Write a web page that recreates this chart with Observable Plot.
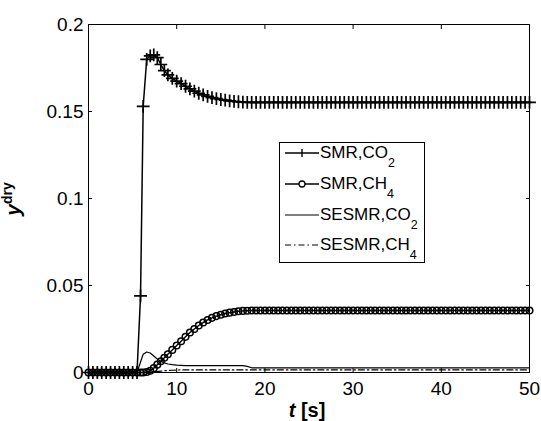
<!DOCTYPE html>
<html>
<head>
<meta charset="utf-8">
<script src="https://cdn.jsdelivr.net/npm/d3@7"></script>
<script src="https://cdn.jsdelivr.net/npm/@observablehq/plot@0.6"></script>
<style>
  body { margin: 0; background: #fff; }
  #chart { position: relative; width: 541px; height: 421px; }
</style>
</head>
<body>
<div id="chart"></div>
<script>
// time [s]
const time = [
  0,0.5,1,1.5,2,2.5,3,3.5,4,4.5,5,5.5,
  5.9,6.2,6.6,7,7.4,7.8,8.2,8.6,9,
  9.5,10,10.5,11,11.5,12,12.5,13,13.5,14,14.5,15,15.5,16,16.5,17,17.5,18,
  18.5,19,19.5,20,20.5,21,21.5,22,22.5,23,23.5,24,24.5,25,25.5,26,
  26.5,27,27.5,28,28.5,29,29.5,30,30.5,31,31.5,32,32.5,33,33.5,34,
  34.5,35,35.5,36,36.5,37,37.5,38,38.5,39,39.5,40,40.5,41,41.5,42,
  42.5,43,43.5,44,44.5,45,45.5,46,46.5,47,47.5,48,48.5,49,49.5,50
];
const smrCO2 = [
  0,0,0,0,0,0,0,0,0,0,0,0,
  0.044,0.153,0.180,0.182,0.1825,0.181,0.177,0.1735,0.171,
  0.169,0.1675,0.166,0.1645,0.163,0.1617,0.1605,0.1595,0.1587,0.158,0.1574,0.1569,0.1565,0.1561,0.1558,0.1556,0.1554,0.1553,
  0.1552,0.1552,0.1552,0.1552,0.1552,0.1552,0.1552,0.1552,0.1552,0.1552,0.1552,0.1552,0.1552,0.1552,0.1552,0.1552,
  0.1552,0.1552,0.1552,0.1552,0.1552,0.1552,0.1552,0.1552,0.1552,0.1552,0.1552,0.1552,0.1552,0.1552,0.1552,0.1552,
  0.1552,0.1552,0.1552,0.1552,0.1552,0.1552,0.1552,0.1552,0.1552,0.1552,0.1552,0.1552,0.1552,0.1552,0.1552,0.1552,
  0.1552,0.1552,0.1552,0.1552,0.1552,0.1552,0.1552,0.1552,0.1552,0.1552,0.1552,0.1552,0.1552,0.1552,0.1552,0.1552
];
const smrCH4 = [
  0,0,0,0,0,0,0,0,0,0,0,0,
  0,0,0.0003,0.001,0.0025,0.0045,0.0065,0.0085,0.0105,
  0.013,0.0155,0.018,0.0205,0.023,0.025,0.027,0.0287,0.0302,0.0314,0.0324,0.0332,0.0339,0.0344,0.0348,0.0352,0.0354,0.0355,
  0.0356,0.0356,0.0356,0.0356,0.0356,0.0356,0.0356,0.0356,0.0356,0.0356,0.0356,0.0356,0.0356,0.0356,0.0356,0.0356,
  0.0356,0.0356,0.0356,0.0356,0.0356,0.0356,0.0356,0.0356,0.0356,0.0356,0.0356,0.0356,0.0356,0.0356,0.0356,0.0356,
  0.0356,0.0356,0.0356,0.0356,0.0356,0.0356,0.0356,0.0356,0.0356,0.0356,0.0356,0.0356,0.0356,0.0356,0.0356,0.0356,
  0.0356,0.0356,0.0356,0.0356,0.0356,0.0356,0.0356,0.0356,0.0356,0.0356,0.0356,0.0356,0.0356,0.0356,0.0356,0.0356
];
const sesmrCO2 = [
  0,0,0,0,0,0,0,0,0,0,0,0,
  0.006,0.0105,0.0118,0.0112,0.0095,0.0078,0.0064,0.0055,0.0049,
  0.0045,0.0042,0.0041,0.004,0.004,0.004,0.004,0.004,0.004,0.004,0.004,0.004,0.004,0.004,0.004,0.004,0.004,0.0035,
  0.0027,0.0027,0.0027,0.0027,0.0027,0.0027,0.0027,0.0027,0.0027,0.0027,0.0027,0.0027,0.0027,0.0027,0.0027,0.0027,
  0.0027,0.0027,0.0027,0.0027,0.0027,0.0027,0.0027,0.0027,0.0027,0.0027,0.0027,0.0027,0.0027,0.0027,0.0027,0.0027,
  0.0027,0.0027,0.0027,0.0027,0.0027,0.0027,0.0027,0.0027,0.0027,0.0027,0.0027,0.0027,0.0027,0.0027,0.0027,0.0027,
  0.0027,0.0027,0.0027,0.0027,0.0027,0.0027,0.0027,0.0027,0.0027,0.0027,0.0027,0.0027,0.0027,0.0027,0.0027,0.0027
];
const sesmrCH4 = [
  0,0,0,0,0,0,0,0,0,0,0,0,
  0,0,0,0,0.0002,0.0005,0.0008,0.001,0.0012,
  0.0013,0.0014,0.0015,0.0015,0.0015,0.0015,0.0015,0.0015,0.0015,0.0015,0.0015,0.0015,0.0015,0.0015,0.0015,0.0015,0.0015,0.0015,
  0.0015,0.0015,0.0015,0.0015,0.0015,0.0015,0.0015,0.0015,0.0015,0.0015,0.0015,0.0015,0.0015,0.0015,0.0015,0.0015,
  0.0015,0.0015,0.0015,0.0015,0.0015,0.0015,0.0015,0.0015,0.0015,0.0015,0.0015,0.0015,0.0015,0.0015,0.0015,0.0015,
  0.0015,0.0015,0.0015,0.0015,0.0015,0.0015,0.0015,0.0015,0.0015,0.0015,0.0015,0.0015,0.0015,0.0015,0.0015,0.0015,
  0.0015,0.0015,0.0015,0.0015,0.0015,0.0015,0.0015,0.0015,0.0015,0.0015,0.0015,0.0015,0.0015,0.0015,0.0015,0.0015
];
const xTicks = [0, 10, 20, 30, 40, 50];
const yTicks = [0, 0.05, 0.1, 0.15, 0.2];
const legendLabels = [["SMR,CO", "2"], ["SMR,CH", "4"], ["SESMR,CO", "2"], ["SESMR,CH", "4"]];

const rows = time.map((t, i) => ({t, smrCO2: smrCO2[i], smrCH4: smrCH4[i], sesmrCO2: sesmrCO2[i], sesmrCH4: sesmrCH4[i]}));

const FONT = "Liberation Sans, Arial, sans-serif";
const plot = Plot.plot({
  width: 541,
  height: 421,
  marginLeft: 88,
  marginRight: 12,
  marginTop: 24,
  marginBottom: 49,
  style: {fontFamily: FONT, fontSize: "19px", color: "black", background: "white"},
  x: {domain: [0, 50]},
  y: {domain: [0, 0.2]},
  marks: [
    Plot.frame({stroke: "black", strokeWidth: 1}),
    Plot.axisX({anchor: "bottom", ticks: xTicks, tickSize: 0, tickPadding: 9, label: null, tickFormat: d => String(d), fontSize: 19}),
    Plot.axisY({anchor: "left", ticks: yTicks, tickSize: 0, tickPadding: 5, label: null, tickFormat: d => String(d), fontSize: 19}),
    Plot.axisX({anchor: "bottom", ticks: xTicks, tickSize: 4, dy: -4, text: null, label: null}),
    Plot.axisX({anchor: "top", ticks: xTicks, tickSize: 4, dy: 4, text: null, label: null}),
    Plot.axisY({anchor: "left", ticks: yTicks, tickSize: 4, dx: 4, text: null, label: null}),
    Plot.axisY({anchor: "right", ticks: yTicks, tickSize: 4, dx: -4, text: null, label: null}),
    Plot.line(rows, {x: "t", y: "sesmrCH4", stroke: "black", strokeWidth: 1.2, strokeDasharray: "6,3,1.5,3"}),
    Plot.line(rows, {x: "t", y: "sesmrCO2", stroke: "black", strokeWidth: 1.2}),
    Plot.line(rows, {x: "t", y: "smrCH4", stroke: "black", strokeWidth: 1.4}),
    Plot.dot(rows, {x: "t", y: "smrCH4", stroke: "black", fill: "none", r: 3.3, strokeWidth: 1.5}),
    Plot.line(rows, {x: "t", y: "smrCO2", stroke: "black", strokeWidth: 1.5}),
    Plot.dot(rows, {x: "t", y: "smrCO2", symbol: "plus", stroke: "black", r: 4.2, strokeWidth: 1.7})
  ]
});
document.getElementById("chart").appendChild(plot);

const svg = d3.select(plot);

// y label
const yl = svg.append("text")
  .attr("transform", "translate(20,199) rotate(-90)")
  .attr("text-anchor", "middle")
  .attr("font-family", FONT)
  .attr("font-weight", "bold")
  .attr("font-size", 21)
  .attr("fill", "black");
yl.append("tspan").attr("font-style", "italic").text("y");
yl.append("tspan").attr("font-size", 14).attr("dy", -8).text("dry");

// x label
const xl = svg.append("text")
  .attr("x", 307).attr("y", 417)
  .attr("text-anchor", "middle")
  .attr("font-family", FONT)
  .attr("font-weight", "bold")
  .attr("font-size", 20)
  .attr("fill", "black");
xl.append("tspan").attr("font-style", "italic").text("t");
xl.append("tspan").text(" [s]");

// legend
const lg = svg.append("g").attr("font-family", FONT).attr("text-anchor", "start");
lg.append("rect").attr("x", 279.5).attr("y", 142.5).attr("width", 145).attr("height", 120)
  .attr("fill", "white").attr("stroke", "black").attr("stroke-width", 1);
const rowY = [153, 184, 215, 245];
const styles = [
  {w: 1.4, dash: null, mark: "plus"},
  {w: 1.4, dash: null, mark: "circle"},
  {w: 1.2, dash: null, mark: null},
  {w: 1.2, dash: "6,3,1.5,3", mark: null}
];
legendLabels.forEach((lab, i) => {
  const y = rowY[i];
  const ln = lg.append("line").attr("x1", 285).attr("x2", 319).attr("y1", y).attr("y2", y)
    .attr("stroke", "black").attr("stroke-width", styles[i].w);
  if (styles[i].dash) ln.attr("stroke-dasharray", styles[i].dash);
  if (styles[i].mark === "plus") {
    lg.append("path").attr("d", `M302,${y - 4}V${y + 4}`).attr("stroke", "black").attr("stroke-width", 1.4);
  } else if (styles[i].mark === "circle") {
    lg.append("circle").attr("cx", 302).attr("cy", y).attr("r", 3).attr("fill", "white").attr("stroke", "black").attr("stroke-width", 1.3);
  }
  const tx = lg.append("text").attr("x", 320).attr("y", y + 5).attr("font-size", 17).attr("fill", "black").attr("text-anchor", "start");
  tx.append("tspan").text(lab[0]);
  tx.append("tspan").attr("font-size", 12.5).attr("dy", 9).text(lab[1]);
});
</script>
</body>
</html>
